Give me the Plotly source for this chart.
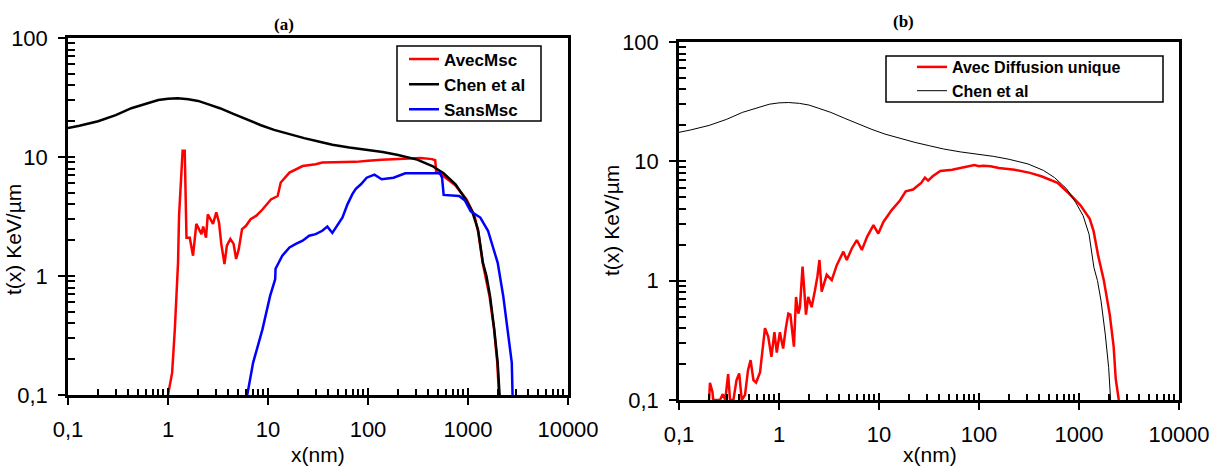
import plotly.graph_objects as go

# ---------------- data ----------------
chen_x = [0.1, 0.13, 0.2, 0.3, 0.43, 0.6, 0.8, 1.0, 1.25, 1.6, 2.0, 2.5, 3.3, 4.5, 6.2,
          8.5, 11.5, 16, 23, 32, 44, 65, 97, 140, 200, 310, 440, 570, 750, 930, 1100,
          1260, 1410, 1530, 1660, 1830, 1980, 2070]
chen_y = [17.5, 18.3, 20, 22.5, 25.7, 28.2, 30.1, 30.9, 31.1, 30.6, 29.6, 27.8, 25.7, 23, 20.5,
          18.5, 16.9, 15.6, 14.4, 13.5, 12.7, 12, 11.5, 11, 10.4, 9.5, 8.4, 7.3, 5.9, 4.5, 3.5,
          2.45, 1.29, 1.0, 0.68, 0.356, 0.187, 0.1]

avec_msc_x = [1.0, 1.05, 1.10, 1.17, 1.21, 1.235, 1.26, 1.29, 1.33, 1.40,
              1.47, 1.51, 1.53, 1.65, 1.78, 1.92, 2.04, 2.16, 2.25, 2.4,
              2.5, 2.65, 2.82, 3.04, 3.24, 3.41, 3.67, 3.88, 4.2, 4.53,
              4.8, 5.1, 5.5, 6.0, 6.7, 7.6, 8.8, 10.7, 12.5, 13.4,
              16.4, 22.2, 30, 34.9, 55.6, 75.6, 100, 137, 200, 336,
              437, 470, 480, 571, 746, 968, 1162, 1270, 1400, 1640,
              1820, 1960, 2040]
avec_msc_y = [0.1, 0.13, 0.154, 0.356, 0.68, 0.94, 1.3, 3.2, 5.4, 11.3,
              11.3, 3.9, 2.1, 2.1, 1.48, 2.74, 2.48, 2.25, 2.6, 2.1,
              3.3, 3.0, 2.74, 3.43, 2.8, 1.86, 1.26, 1.8, 2.05, 1.86,
              1.39, 1.68, 2.48, 2.63, 3.0, 3.2, 3.62, 4.4, 4.7, 6.1,
              7.4, 8.4, 8.7, 9.0, 9.1, 9.1, 9.3, 9.5, 9.6, 9.8,
              9.6, 9.4, 7.6, 6.9, 5.8, 4.4, 3.2, 2.3, 1.3, 0.68,
              0.36, 0.19, 0.1]

sans_msc_x = [6.2, 7.1, 8.8, 10.5, 11.8, 11.9, 13.9, 16.4, 19.0, 22.2,
              25.8, 30, 34.9, 39.2, 44.0, 49.3, 55.6, 62.3, 70, 75.6,
              85, 97, 116, 137, 180, 236, 336, 525, 550, 571,
              815, 933, 1065, 1327, 1585, 1734, 1982, 2250, 2480, 2740,
              2790]
sans_msc_y = [0.1, 0.187, 0.356, 0.68, 0.94, 1.15, 1.48, 1.74, 1.86, 1.98,
              2.18, 2.25, 2.4, 2.6, 2.3, 2.68, 3.1, 4.0, 4.9, 5.4,
              5.9, 6.7, 7.1, 6.5, 6.7, 7.3, 7.3, 7.3, 6.7, 4.8,
              4.7, 4.3, 3.5, 3.1, 2.4, 1.9, 1.29, 0.68, 0.356, 0.187,
              0.1]

diff_x = [0.2, 0.204, 0.216, 0.22, 0.257, 0.274, 0.29, 0.31, 0.324, 0.35,
          0.376, 0.40, 0.424, 0.457, 0.49, 0.52, 0.555, 0.59, 0.646, 0.697,
          0.724, 0.78, 0.84, 0.9, 0.95, 1.02, 1.1, 1.17, 1.24, 1.30,
          1.41, 1.48, 1.56, 1.62, 1.72, 1.78, 1.86, 1.96, 2.12, 2.29,
          2.42, 2.54, 2.67, 3.0, 3.37, 3.78, 4.4, 4.76, 5.36, 6.0,
          6.74, 7.6, 8.8, 9.84, 11.1, 13.4, 16.2, 18.5, 21.9, 26.4,
          28.8, 31, 34.4, 41, 54, 65, 77.6, 90, 100, 110,
          130, 158, 227, 324, 420, 610, 790, 1030, 1280, 1400,
          1550, 1774, 2030, 2220, 2330, 2500]
diff_y = [0.1, 0.139, 0.117, 0.1, 0.1, 0.112, 0.1, 0.165, 0.1, 0.1,
          0.147, 0.167, 0.1, 0.11, 0.178, 0.216, 0.147, 0.14, 0.17, 0.29,
          0.40, 0.34, 0.23, 0.37, 0.25, 0.37, 0.27, 0.40, 0.53, 0.52,
          0.28, 0.73, 0.53, 0.6, 1.31, 0.89, 0.52, 0.73, 0.6, 0.83,
          1.08, 1.49, 0.81, 1.12, 1.01, 1.35, 1.75, 1.49, 1.87, 2.19,
          1.81, 2.33, 2.92, 2.48, 3.12, 3.9, 4.7, 5.6, 5.8, 6.6,
          7.3, 6.9, 7.5, 8.3, 8.5, 8.8, 9.1, 9.3, 9.1, 9.2,
          9.1, 8.8, 8.5, 8.0, 7.5, 6.6, 5.4, 4.3, 3.3, 2.6,
          1.64, 1.0, 0.52, 0.28, 0.15, 0.1]

x_tick_vals = [0.1, 1, 10, 100, 1000, 10000]
x_tick_text = ["0,1", "1", "10", "100", "1000", "10000"]
y_tick_vals = [0.1, 1, 10, 100]
y_tick_text = ["0,1", "1", "10", "100"]

# ---------------- layout geometry ----------------
W, H = 1222, 466
ML, MR, MT, MB = 68, 43, 38, 66
PW, PH = W - ML - MR, H - MT - MB


def px(xp):
    return (xp - ML) / PW


def py(yp):
    return (H - MB - yp) / PH


x_minor = [m * 10.0 ** e for e in range(-1, 4) for m in range(2, 10)]
y_minor = [m * 10.0 ** e for e in range(-1, 2) for m in range(2, 10)]

SANS = "Liberation Sans, Arial, sans-serif"
TICKFONT = dict(family=SANS, size=22, color="black")
AXTITLE = dict(family=SANS, size=21, color="black")
PANELFONT = dict(family="Liberation Serif, Times New Roman, serif", size=17,
                 color="black", weight="bold")

fig = go.Figure()

# panel (a)
fig.add_trace(go.Scatter(x=avec_msc_x, y=avec_msc_y, name="AvecMsc", mode="lines",
                         line=dict(color="#ff0000", width=2.5), xaxis="x", yaxis="y",
                         legend="legend"))
fig.add_trace(go.Scatter(x=chen_x, y=chen_y, name="Chen et al", mode="lines",
                         line=dict(color="#000000", width=2.5), xaxis="x", yaxis="y",
                         legend="legend"))
fig.add_trace(go.Scatter(x=sans_msc_x, y=sans_msc_y, name="SansMsc", mode="lines",
                         line=dict(color="#0000ff", width=2.5), xaxis="x", yaxis="y",
                         legend="legend"))
# panel (b)
fig.add_trace(go.Scatter(x=diff_x, y=diff_y, name="Avec Diffusion unique", mode="lines",
                         line=dict(color="#ff0000", width=2.5), xaxis="x2", yaxis="y2",
                         legend="legend2"))
fig.add_trace(go.Scatter(x=chen_x, y=chen_y, name="Chen et al", mode="lines",
                         line=dict(color="#000000", width=1), xaxis="x2", yaxis="y2",
                         legend="legend2"))
# empty traces to activate the overlay axes (inner half of the major ticks)
fig.add_trace(go.Scatter(x=[None], y=[None], xaxis="x3", yaxis="y3", showlegend=False,
                         hoverinfo="skip"))
fig.add_trace(go.Scatter(x=[None], y=[None], xaxis="x4", yaxis="y4", showlegend=False,
                         hoverinfo="skip"))


def main_x(domain, anchor):
    return dict(type="log", range=[-1, 4], domain=domain, anchor=anchor,
                tickmode="array", tickvals=x_tick_vals, ticktext=x_tick_text,
                ticks="outside", ticklen=7, tickwidth=2, tickcolor="black",
                ticklabelstandoff=6, tickfont=TICKFONT,
                minor=dict(tickmode="array", tickvals=x_minor, ticks="inside",
                           ticklen=6, tickwidth=2, tickcolor="black", showgrid=False),
                showline=True, linewidth=2.5, linecolor="black", mirror=True,
                showgrid=False, zeroline=False, automargin=False, fixedrange=True)


def main_y(domain, anchor):
    return dict(type="log", range=[-1, 2], domain=domain, anchor=anchor,
                tickmode="array", tickvals=y_tick_vals, ticktext=y_tick_text,
                ticks="outside", ticklen=7, tickwidth=2, tickcolor="black",
                ticklabelstandoff=6, tickfont=TICKFONT,
                minor=dict(tickmode="array", tickvals=y_minor, ticks="inside",
                           ticklen=7, tickwidth=2, tickcolor="black", showgrid=False),
                showline=True, linewidth=2.5, linecolor="black", mirror=True,
                showgrid=False, zeroline=False, automargin=False, fixedrange=True)


def overlay_x(over, anchor):
    return dict(type="log", range=[-1, 4], overlaying=over, anchor=anchor,
                tickmode="array", tickvals=x_tick_vals, ticks="inside", ticklen=7,
                tickwidth=2, tickcolor="black", showticklabels=False, showline=False,
                showgrid=False, zeroline=False, automargin=False, fixedrange=True)


def overlay_y(over, anchor):
    return dict(type="log", range=[-1, 2], overlaying=over, anchor=anchor,
                tickmode="array", tickvals=y_tick_vals, ticks="inside", ticklen=7,
                tickwidth=2, tickcolor="black", showticklabels=False, showline=False,
                showgrid=False, zeroline=False, automargin=False, fixedrange=True)


xa_dom = [px(68), px(568)]
xb_dom = [px(679), px(1179)]
ya_dom = [py(395), py(38)]
yb_dom = [py(400), py(42)]


def text_ann(text, xp, yp, font, angle=0):
    return dict(text=text, x=px(xp), y=py(yp), xref="paper", yref="paper",
                showarrow=False, textangle=angle, xanchor="center", yanchor="middle",
                font=font)


def box(x0, x1, y0, y1):
    return dict(type="rect", xref="paper", yref="paper",
                x0=px(x0), x1=px(x1), y0=py(y1), y1=py(y0),
                line=dict(color="black", width=1.5), fillcolor="white", layer="below")


fig.update_layout(
    width=W, height=H,
    margin=dict(l=ML, r=MR, t=MT, b=MB, autoexpand=False),
    paper_bgcolor="white", plot_bgcolor="white",
    xaxis=main_x(xa_dom, "y"), yaxis=main_y(ya_dom, "x"),
    xaxis2=main_x(xb_dom, "y2"), yaxis2=main_y(yb_dom, "x2"),
    xaxis3=overlay_x("x", "y3"), yaxis3=overlay_y("y", "x3"),
    xaxis4=overlay_x("x2", "y4"), yaxis4=overlay_y("y2", "x4"),
    legend=dict(x=px(404), y=py(41.5), xanchor="left", yanchor="top",
                bgcolor="rgba(0,0,0,0)", borderwidth=0,
                font=dict(family=SANS, size=17, color="black", weight="bold"),
                tracegroupgap=0),
    legend2=dict(x=px(912), y=py(50), xanchor="left", yanchor="top",
                 bgcolor="rgba(0,0,0,0)", borderwidth=0,
                 font=dict(family=SANS, size=16, color="black", weight="bold"),
                 tracegroupgap=0),
    shapes=[box(397, 541, 46, 121), box(886, 1163, 56, 102)],
    annotations=[
        text_ann("(a)", 284, 25, PANELFONT),
        text_ann("(b)", 903, 22, PANELFONT),
        text_ann("t(x) KeV/µm", 13, 240, AXTITLE, -90),
        text_ann("t(x) KeV/µm", 611, 221, AXTITLE, -90),
        text_ann("x(nm)", 318, 454, AXTITLE),
        text_ann("x(nm)", 930, 454, AXTITLE),
    ],
    showlegend=True,
)

fig.write_html("out.html", post_script="document.body.style.margin='0px';",
               config={"displayModeBar": False})
